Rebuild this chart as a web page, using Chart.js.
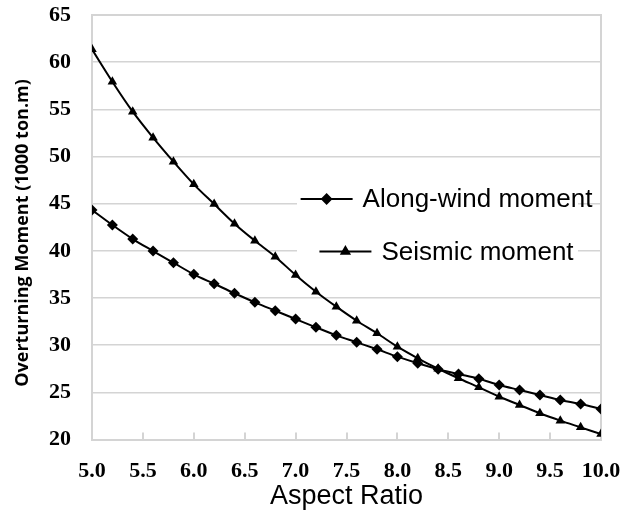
<!DOCTYPE html>
<html>
<head>
<meta charset="utf-8">
<script src="https://cdn.jsdelivr.net/npm/chart.js@4/dist/chart.umd.min.js"></script>
<style>
html,body{margin:0;padding:0;background:#fff;}
#wrap{width:632px;height:515px;position:relative;}
</style>
</head>
<body>
<div id="wrap"><canvas id="c" width="632" height="515"></canvas></div>
<script>
const aspectRatios = [5.0,5.2,5.4,5.6,5.8,6.0,6.2,6.4,6.6,6.8,7.0,7.2,7.4,7.6,7.8,8.0,8.2,8.4,8.6,8.8,9.0,9.2,9.4,9.6,9.8,10.0];
const alongWind = [44.33,42.74,41.25,39.98,38.74,37.51,36.51,35.50,34.54,33.65,32.77,31.89,31.04,30.30,29.56,28.78,28.08,27.44,26.94,26.44,25.78,25.25,24.72,24.19,23.76,23.23];
const seismic = [61.36,57.93,54.75,52.00,49.45,47.05,44.96,42.88,41.07,39.38,37.44,35.67,34.08,32.59,31.26,29.84,28.61,27.50,26.49,25.53,24.54,23.66,22.78,22.00,21.29,20.58];
const xTicks = [5.0,5.5,6.0,6.5,7.0,7.5,8.0,8.5,9.0,9.5,10.0];
const yTicks = [20,25,30,35,40,45,50,55,60,65];
const seriesNames = ["Along-wind moment","Seismic moment"];
const yTitle = 'Overturning Moment (1000 ton.m)';

const toXY = (ys) => aspectRatios.map((x,i)=>({x:x,y:ys[i]}));

const GREY = '#d4d4d4';

const innerTicks = {
  id:'innerTicks',
  beforeDatasetsDraw(chart){
    const ctx = chart.ctx, xs = chart.scales.x, ca = chart.chartArea;
    ctx.save();
    ctx.strokeStyle = GREY; ctx.lineWidth = 2;
    xTicks.forEach(v=>{
      const px = Math.round(xs.getPixelForValue(v));
      ctx.beginPath(); ctx.moveTo(px, ca.bottom); ctx.lineTo(px, ca.bottom-7); ctx.stroke();
    });
    ctx.beginPath();
    ctx.moveTo(ca.left, ca.top); ctx.lineTo(ca.right, ca.top); ctx.lineTo(ca.right, ca.bottom);
    ctx.stroke();
    ctx.restore();
  }
};

const yTitlePlugin = {
  id:'yTitlePlugin',
  afterDraw(chart){
    const ctx = chart.ctx;
    ctx.save();
    ctx.translate(23, 233);
    ctx.rotate(-Math.PI/2);
    ctx.font = 'bold 18px "Open Sans", "DejaVu Sans", sans-serif';
    ctx.fillStyle = '#000';
    ctx.textAlign = 'center';
    ctx.textBaseline = 'middle';
    ctx.fillText(yTitle, 0, 0);
    ctx.restore();
  }
};

const boxLegend = {
  id:'boxLegend',
  afterDraw(chart){
    const ctx = chart.ctx;
    const cx = 446.5;
    const rows = [199, 251.5];
    ctx.save();
    ctx.fillStyle = '#fff';
    ctx.fillRect(297, 176, 281, 96);
    ctx.font = '26px "Liberation Sans", Arial, sans-serif';
    ctx.textBaseline = 'middle';
    chart.data.datasets.forEach((ds,i)=>{
      const tw = ctx.measureText(ds.label).width;
      const total = 52 + 10 + tw;
      const x0 = cx - total/2, y = rows[i];
      ctx.strokeStyle = '#000'; ctx.lineWidth = 2;
      ctx.beginPath(); ctx.moveTo(x0,y); ctx.lineTo(x0+52,y); ctx.stroke();
      Chart.helpers.drawPoint(ctx,{pointStyle:ds.pointStyle,radius:4.5,borderWidth:1},x0+26,y);
      ctx.fillStyle = '#000';
      ctx.fill();
      ctx.fillText(ds.label, x0+62, y+1);
    });
    ctx.restore();
  }
};

new Chart(document.getElementById('c'), {
  type:'line',
  data:{
    datasets:[
      {label:seriesNames[0], data:toXY(alongWind), borderColor:'#000', backgroundColor:'#000', borderWidth:2,
       pointStyle:'rectRot', pointRadius:5.5, pointBorderWidth:0, tension:0.4, cubicInterpolationMode:'monotone'},
      {label:seriesNames[1], data:toXY(seismic), borderColor:'#000', backgroundColor:'#000', borderWidth:2,
       pointStyle:'triangle', pointRadius:5.5, pointBorderWidth:0, tension:0.4, cubicInterpolationMode:'monotone'}
    ]
  },
  options:{
    responsive:false, animation:false,
    layout:{padding:{top:15,right:31,bottom:0,left:0}},
    plugins:{legend:{display:false}, tooltip:{enabled:false}},
    scales:{
      x:{
        type:'linear', min:5, max:10,
        afterBuildTicks(s){ s.ticks = xTicks.map(v=>({value:v})); },
        afterFit(s){ s.height = 75.5; s.paddingLeft = 0; s.paddingRight = 0; },
        grid:{display:false, drawTicks:false},
        border:{display:true, color:GREY, width:2},
        ticks:{padding:19, color:'#000', font:{family:'"Liberation Serif", "Times New Roman", serif', weight:'bold', size:22},
               callback:(v)=>Number(v).toFixed(1), maxRotation:0, autoSkip:false},
        title:{display:true, text:'Aspect Ratio', color:'#000', font:{family:'"Liberation Sans", Arial, sans-serif', size:27}, padding:{top:0,bottom:2}}
      },
      y:{
        min:20, max:65,
        afterBuildTicks(s){ s.ticks = yTicks.map(v=>({value:v})); },
        afterFit(s){ s.width = 92; s.paddingTop = 0; s.paddingBottom = 0; },
        grid:{color:GREY, lineWidth:1.5, drawTicks:false, borderDash:[2,2]},
        border:{display:true, color:GREY, width:2},
        ticks:{padding:21, color:'#000', font:{family:'"Liberation Serif", "Times New Roman", serif', weight:'bold', size:22}},
        title:{display:false}
      }
    }
  },
  plugins:[innerTicks, yTitlePlugin, boxLegend]
});
</script>
</body>
</html>
